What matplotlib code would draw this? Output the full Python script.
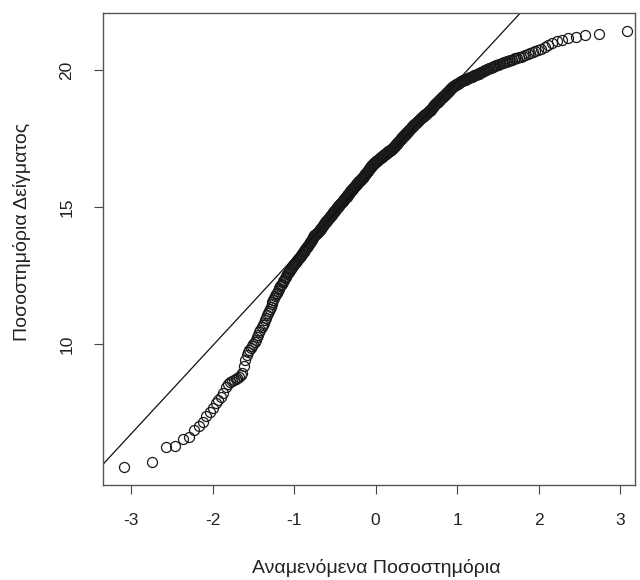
import numpy as np
import matplotlib
matplotlib.use("Agg")
import matplotlib.pyplot as plt
from statistics import NormalDist

sample_values = [
    5.51, 5.70, 6.22, 6.28, 6.54,
    6.59, 6.84, 7.00, 7.14, 7.37,
    7.53, 7.65, 7.84, 7.95, 8.05,
    8.22, 8.44, 8.55, 8.62, 8.66,
    8.69, 8.72, 8.75, 8.79, 8.86,
    8.94, 9.20, 9.42, 9.60, 9.70,
    9.78, 9.85, 9.92, 9.98, 10.08,
    10.15, 10.24, 10.33, 10.42, 10.52,
    10.60, 10.68, 10.77, 10.86, 10.95,
    11.04, 11.12, 11.20, 11.28, 11.36,
    11.45, 11.53, 11.60, 11.68, 11.75,
    11.81, 11.87, 11.93, 11.99, 12.05,
    12.10, 12.15, 12.20, 12.25, 12.30,
    12.35, 12.39, 12.44, 12.49, 12.54,
    12.58, 12.62, 12.66, 12.70, 12.74,
    12.77, 12.81, 12.84, 12.88, 12.91,
    12.94, 12.97, 13.00, 13.03, 13.06,
    13.09, 13.12, 13.15, 13.18, 13.21,
    13.24, 13.27, 13.30, 13.34, 13.37,
    13.40, 13.43, 13.46, 13.49, 13.52,
    13.55, 13.58, 13.61, 13.65, 13.68,
    13.71, 13.74, 13.77, 13.81, 13.84,
    13.87, 13.90, 13.93, 13.96, 13.98,
    14.00, 14.02, 14.04, 14.06, 14.08,
    14.10, 14.12, 14.14, 14.16, 14.18,
    14.20, 14.22, 14.25, 14.28, 14.30,
    14.33, 14.36, 14.38, 14.41, 14.44,
    14.46, 14.48, 14.50, 14.53, 14.55,
    14.57, 14.59, 14.61, 14.64, 14.66,
    14.68, 14.70, 14.72, 14.75, 14.77,
    14.79, 14.81, 14.83, 14.85, 14.87,
    14.89, 14.91, 14.93, 14.96, 14.98,
    15.00, 15.02, 15.04, 15.06, 15.08,
    15.10, 15.12, 15.13, 15.15, 15.17,
    15.19, 15.21, 15.23, 15.25, 15.27,
    15.29, 15.31, 15.33, 15.35, 15.36,
    15.38, 15.40, 15.42, 15.44, 15.46,
    15.48, 15.50, 15.53, 15.55, 15.57,
    15.59, 15.61, 15.63, 15.65, 15.67,
    15.69, 15.71, 15.72, 15.74, 15.76,
    15.78, 15.80, 15.81, 15.83, 15.85,
    15.87, 15.89, 15.90, 15.92, 15.94,
    15.95, 15.96, 15.98, 15.99, 16.01,
    16.02, 16.04, 16.05, 16.07, 16.09,
    16.11, 16.13, 16.15, 16.17, 16.19,
    16.21, 16.23, 16.25, 16.27, 16.29,
    16.31, 16.33, 16.35, 16.37, 16.39,
    16.41, 16.43, 16.45, 16.47, 16.49,
    16.50, 16.52, 16.54, 16.55, 16.57,
    16.58, 16.60, 16.61, 16.63, 16.64,
    16.65, 16.66, 16.68, 16.69, 16.70,
    16.71, 16.72, 16.74, 16.75, 16.76,
    16.77, 16.78, 16.80, 16.81, 16.82,
    16.83, 16.84, 16.86, 16.87, 16.88,
    16.89, 16.90, 16.92, 16.93, 16.94,
    16.95, 16.97, 16.98, 16.99, 17.00,
    17.01, 17.03, 17.04, 17.05, 17.06,
    17.07, 17.08, 17.09, 17.10, 17.11,
    17.12, 17.14, 17.16, 17.17, 17.19,
    17.21, 17.23, 17.24, 17.26, 17.28,
    17.30, 17.31, 17.33, 17.35, 17.37,
    17.38, 17.40, 17.42, 17.44, 17.45,
    17.47, 17.49, 17.51, 17.52, 17.54,
    17.56, 17.58, 17.59, 17.61, 17.63,
    17.65, 17.66, 17.68, 17.70, 17.72,
    17.73, 17.75, 17.77, 17.79, 17.80,
    17.82, 17.84, 17.86, 17.87, 17.89,
    17.91, 17.92, 17.94, 17.95, 17.97,
    17.99, 18.01, 18.03, 18.04, 18.06,
    18.07, 18.09, 18.11, 18.12, 18.14,
    18.15, 18.17, 18.19, 18.20, 18.22,
    18.23, 18.25, 18.27, 18.28, 18.30,
    18.31, 18.33, 18.35, 18.36, 18.38,
    18.39, 18.41, 18.43, 18.44, 18.46,
    18.47, 18.49, 18.50, 18.52, 18.53,
    18.55, 18.57, 18.60, 18.62, 18.65,
    18.67, 18.69, 18.71, 18.74, 18.76,
    18.78, 18.80, 18.82, 18.84, 18.86,
    18.88, 18.90, 18.92, 18.94, 18.96,
    18.98, 19.00, 19.02, 19.04, 19.06,
    19.08, 19.10, 19.13, 19.15, 19.17,
    19.19, 19.21, 19.24, 19.26, 19.28,
    19.30, 19.33, 19.35, 19.37, 19.40,
    19.42, 19.43, 19.45, 19.46, 19.48,
    19.49, 19.50, 19.52, 19.53, 19.55,
    19.56, 19.58, 19.59, 19.61, 19.62,
    19.63, 19.64, 19.65, 19.67, 19.68,
    19.69, 19.70, 19.72, 19.73, 19.75,
    19.76, 19.77, 19.78, 19.80, 19.81,
    19.82, 19.84, 19.85, 19.87, 19.89,
    19.90, 19.92, 19.93, 19.95, 19.97,
    19.99, 20.00, 20.02, 20.04, 20.06,
    20.08, 20.10, 20.12, 20.14, 20.16,
    20.18, 20.20, 20.21, 20.23, 20.25,
    20.27, 20.29, 20.30, 20.32, 20.34,
    20.36, 20.38, 20.40, 20.42, 20.44,
    20.46, 20.49, 20.52, 20.55, 20.58,
    20.61, 20.65, 20.69, 20.73, 20.78,
    20.85, 20.91, 20.97, 21.05, 21.11,
    21.16, 21.22, 21.29, 21.31, 21.43,
]

x_ticks = [-3, -2, -1, 0, 1, 2, 3]
y_ticks = [10, 15, 20]
x_label = "Αναμενόμενα Ποσοστημόρια"
y_label = "Ποσοστημόρια Δείγματος"

plt.rcParams['font.family'] = ['Liberation Sans', 'DejaVu Sans']

# Theoretical normal quantiles, same as R's qqnorm (ppoints with a = 0.5)
sample = np.sort(np.array(sample_values))
n = len(sample)
nd = NormalDist()
probs = (np.arange(1, n + 1) - 0.5) / n
theoretical = np.array([nd.inv_cdf(p) for p in probs])

# Reference line through the quartiles (like qqline)
y_q = np.percentile(sample, [25, 75])
x_q = np.array([nd.inv_cdf(0.25), nd.inv_cdf(0.75)])
slope = (y_q[1] - y_q[0]) / (x_q[1] - x_q[0])

fig = plt.figure(figsize=(6.4, 5.8), dpi=100)
ax = fig.add_axes([103 / 640, 1 - 485 / 580, 532 / 640, 472 / 580])

ax.plot(theoretical, sample, linestyle='none', marker='o', markersize=7.2,
        markerfacecolor='none', markeredgecolor='#1a1a1a', markeredgewidth=0.9)
ax.axline((x_q[0], y_q[0]), slope=slope, color='#111111', linewidth=0.9)

ax.set_xlim(-3.344, 3.184)
ax.set_ylim(4.85, 22.08)
ax.set_xticks(x_ticks)
ax.set_yticks(y_ticks)
ax.set_xticklabels([str(t) for t in x_ticks])
ax.set_yticklabels([str(t) for t in y_ticks], rotation=90, va='center')

ax.tick_params(axis='both', direction='out', length=6.5, width=0.8,
               color='#444444', labelsize=12.5, labelcolor='#222222')
ax.tick_params(axis='x', pad=14)
ax.tick_params(axis='y', pad=14)

for spine in ax.spines.values():
    spine.set_color('#555555')
    spine.set_linewidth(1.0)

ax.set_xlabel(x_label, fontsize=14, color='#222222')
ax.set_ylabel(y_label, fontsize=14, color='#222222')
ax.xaxis.set_label_coords((376 - 103) / 532, -(568 - 485) / 472)
ax.yaxis.set_label_coords(-(103 - 22) / 532, (485 - 232) / 472)
ax.xaxis.label.set_va('center')
ax.yaxis.label.set_va('center')

fig.savefig('out.png', dpi=100, facecolor='white')
